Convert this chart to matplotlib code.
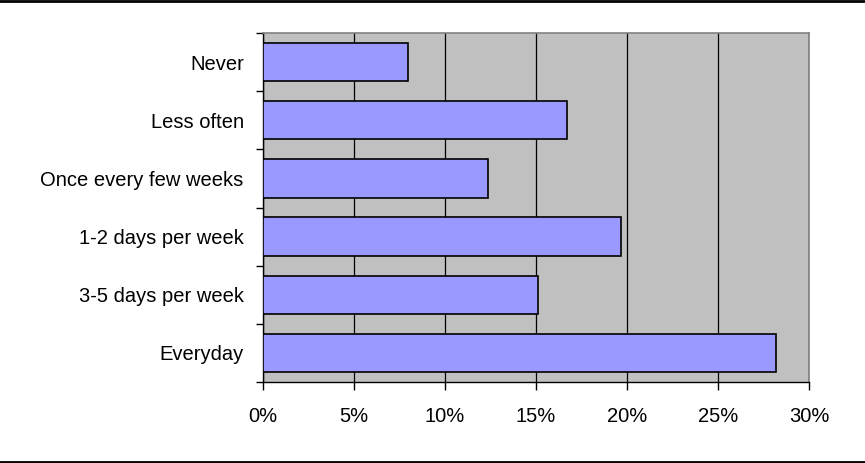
import matplotlib.pyplot as plt
from matplotlib.lines import Line2D
from matplotlib.ticker import FuncFormatter, FixedLocator
import numpy as np

plt.rcParams['font.family'] = ['Liberation Sans', 'DejaVu Sans']

# how often respondents do it, top row first
categories = ["Never", "Less often", "Once every few weeks",
              "1-2 days per week", "3-5 days per week", "Everyday"]
shares = [8.0, 16.7, 12.4, 19.7, 15.1, 28.2]
xticks = [0, 5, 10, 15, 20, 25, 30]

fig = plt.figure(figsize=(8.65, 4.63), dpi=100)
ax = fig.add_axes([262.5 / 865, 81 / 463, 546.5 / 865, 349 / 463])

ypos = np.arange(len(categories))
ax.barh(ypos, shares, height=0.66, color="#9999FF", edgecolor="black",
        linewidth=1.2, zorder=3)

ax.set_facecolor("#C0C0C0")
ax.set_xlim(0, 30)
ax.set_ylim(len(categories) - 0.5, -0.5)

ax.set_xticks(xticks)
ax.xaxis.set_major_formatter(FuncFormatter(lambda v, p: "%d%%" % v))
ax.set_yticks(ypos)
ax.set_yticklabels(categories)
ax.yaxis.set_minor_locator(FixedLocator(np.arange(-0.5, len(categories), 1)))

ax.tick_params(axis="y", which="major", length=0, pad=13.5, labelsize=14.5)
ax.tick_params(axis="y", which="minor", length=5, width=1, direction="out")
ax.tick_params(axis="x", length=6, width=1, direction="out", pad=12,
               labelsize=14.5)

ax.grid(axis="x", color="black", linewidth=0.9, zorder=1)
ax.set_axisbelow(True)

for side in ["top", "right"]:
    ax.spines[side].set_color("#808080")
    ax.spines[side].set_linewidth(1.2)
for side in ["left", "bottom"]:
    ax.spines[side].set_color("black")
    ax.spines[side].set_linewidth(1.0)

# rules above and below the chart
fig.add_artist(Line2D([0, 1], [1 - 1.3 / 463, 1 - 1.3 / 463], color="black", lw=2.0))
fig.add_artist(Line2D([0, 1], [1.3 / 463, 1.3 / 463], color="black", lw=2.0))

fig.savefig("out.png", dpi=100)
